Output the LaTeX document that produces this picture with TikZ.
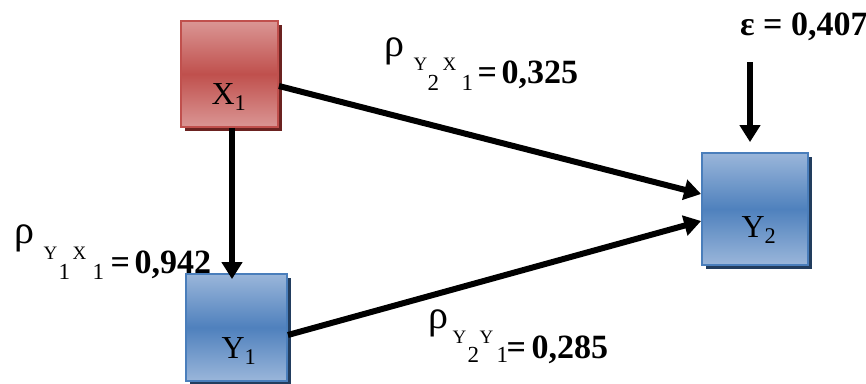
\documentclass[tikz,border=0pt]{standalone}
\usepackage{fontspec}
\setmainfont{Liberation Serif}
\usetikzlibrary{arrows.meta,shadows}
\definecolor{redLight}{HTML}{DA9694}
\definecolor{redMid}{HTML}{C0504D}
\definecolor{redEdge}{HTML}{C0504D}
\definecolor{redShadow}{HTML}{6B2220}
\definecolor{bluLight}{HTML}{9AB6DA}
\definecolor{bluMid}{HTML}{4F81BD}
\definecolor{bluEdge}{HTML}{4A7EBB}
\definecolor{bluShadow}{HTML}{223D5E}
\newcommand\fRho{\fontsize{40}{40}\selectfont}
\newcommand\fLet{\fontsize{19}{19}\selectfont}
\newcommand\fDig{\fontsize{23}{23}\selectfont}
\newcommand\fVal{\fontsize{34}{34}\selectfont\bfseries}
% piece: x offset, raise, font, text
\newcommand\pc[4]{\makebox[0pt][l]{\hspace*{#1pt}\raisebox{#2pt}{#3#4}}}
\begin{document}
\begin{tikzpicture}[x=1pt,y=-1pt,
  box/.style={rectangle, line width=1.8pt, inner sep=0pt},
  redbox/.style={box, draw=redEdge, top color=redLight, bottom color=redLight, middle color=redMid,
    drop shadow={shadow xshift=3.5pt, shadow yshift=-3.5pt, fill=redShadow, opacity=1}},
  bluebox/.style={box, draw=bluEdge, top color=bluLight, bottom color=bluLight, middle color=bluMid,
    drop shadow={shadow xshift=3.5pt, shadow yshift=-3.5pt, fill=bluShadow, opacity=1}},
  arr/.style={line width=6pt, -{Triangle[length=17pt,width=20pt]}},
  boxtext/.style={font=\fontsize{32}{32}\selectfont, inner sep=0pt, anchor=base},
  lab/.style={inner sep=0pt, anchor=base west}
]
\useasboundingbox (0,0) rectangle (866,383);
\fill[white] (0,0) rectangle (866,383);

\node[redbox, minimum width=97pt, minimum height=106pt] (x1) at (229.5,74) {};
\node[bluebox, minimum width=101pt, minimum height=107pt] (y1) at (236.5,327.5) {};
\node[bluebox, minimum width=106pt, minimum height=112pt] (y2) at (755,209) {};

\node[boxtext] (x1t) at (229,104) {X\textsubscript{1}};
\node[boxtext] (y1t) at (239,358) {Y\textsubscript{1}};
\node[boxtext] (y2t) at (759,237) {Y\textsubscript{2}};

\coordinate (epsStart) at (750,62);

\draw[arr] ([xshift=2.5pt]x1.south) -- ([xshift=-4.5pt,yshift=-6pt]y1.north);
\draw[arr] ([yshift=-12pt]x1.east) -- ([yshift=15pt]y2.west);
\draw[arr] ([yshift=-7.5pt]y1.east) -- ([yshift=-12pt]y2.west);
\draw[arr] (epsStart) -- ([xshift=-5pt,yshift=10pt]y2.north);

\node[lab] (labA) at (384,83) {\pc{0}{27}{\fRho}{ρ}\pc{29}{13}{\fLet}{Y}\pc{43}{-7}{\fDig}{2}\pc{58}{13}{\fLet}{X}\pc{77}{-7}{\fDig}{1}\pc{93}{0}{\fVal}{=}\pc{117}{0}{\fVal}{0,325}};
\node[lab] (labB) at (14,273) {\pc{0}{30}{\fRho}{ρ}\pc{29}{14}{\fLet}{Y}\pc{44}{-6}{\fDig}{1}\pc{58}{14}{\fLet}{X}\pc{78}{-6}{\fDig}{1}\pc{96}{0}{\fVal}{=}\pc{120}{0}{\fVal}{0,942}};
\node[lab] (labC) at (428,358) {\pc{0}{30}{\fRho}{ρ}\pc{24}{15}{\fLet}{Y}\pc{39}{-4}{\fDig}{2}\pc{51}{15}{\fLet}{Y}\pc{68}{-4}{\fDig}{1}\pc{78}{0}{\fVal}{=}\pc{103}{0}{\fVal}{0,285}};
\node[lab, font=\fVal] (labE) at (740,35) {ε = 0,407};
\end{tikzpicture}
\end{document}
